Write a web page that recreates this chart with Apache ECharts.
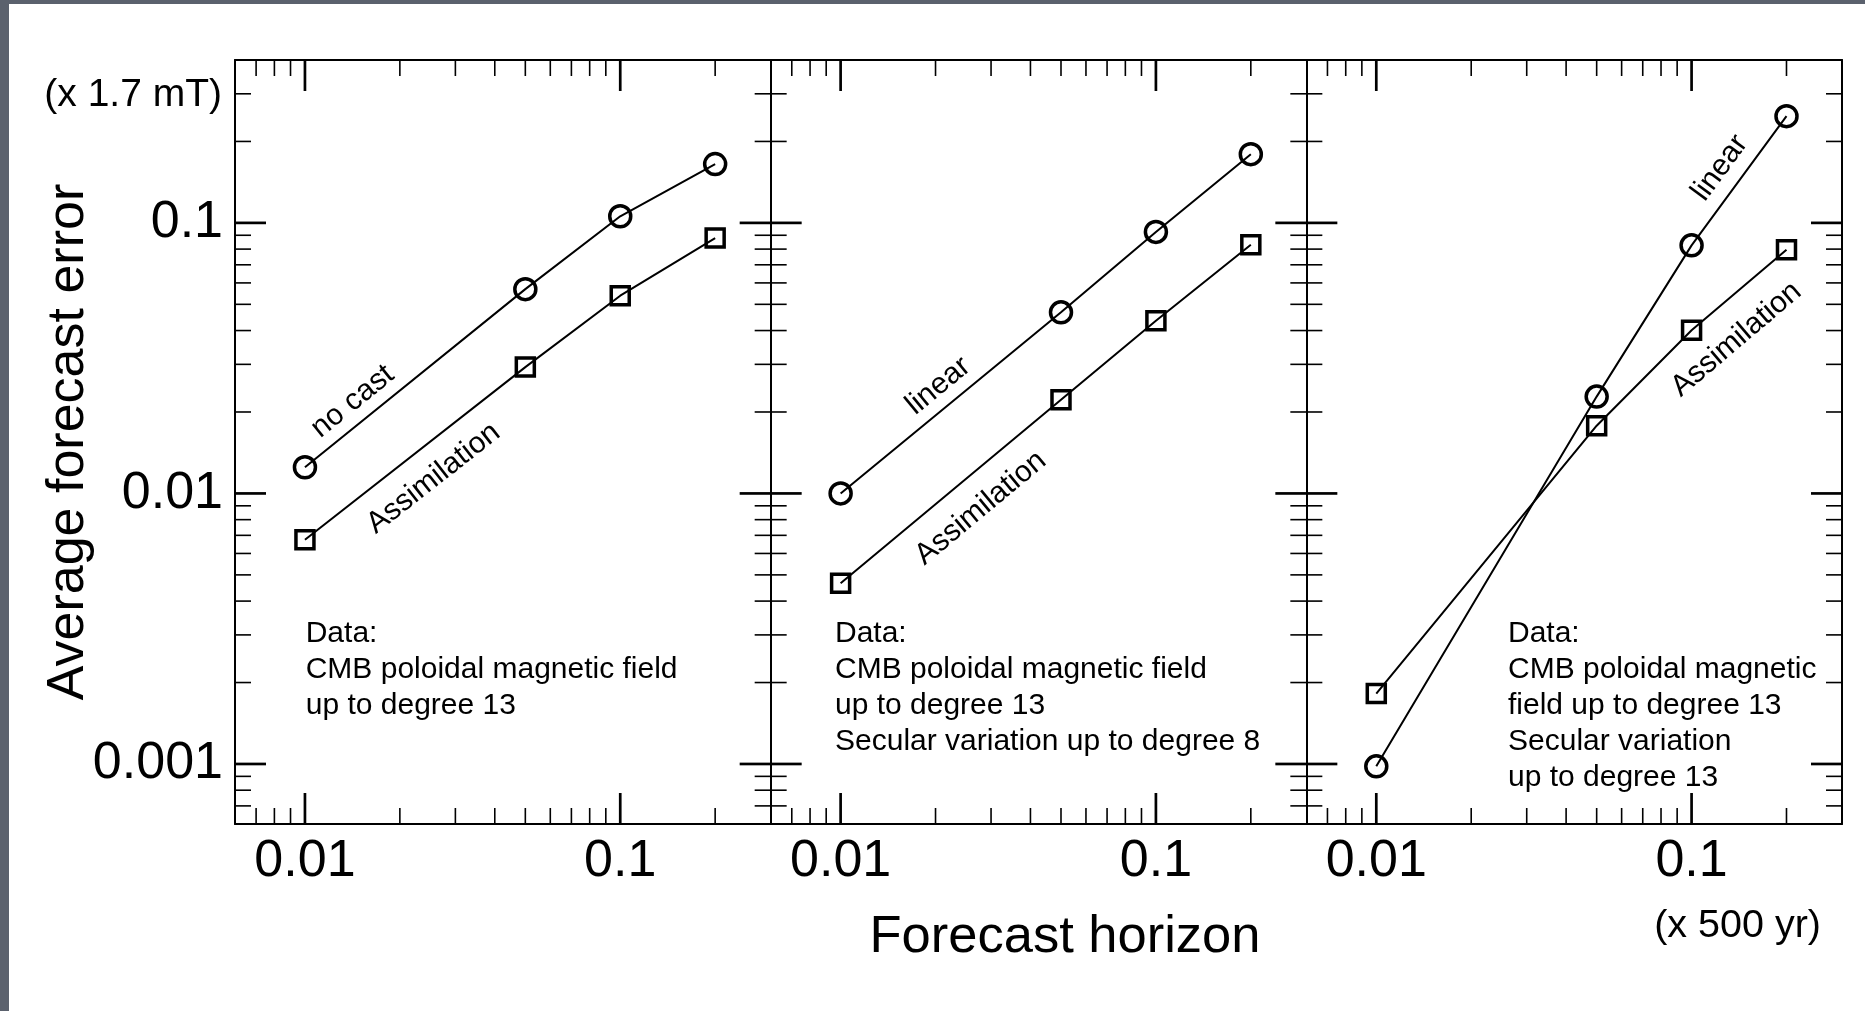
<!DOCTYPE html>
<html>
<head>
<meta charset="utf-8">
<script src="https://cdn.jsdelivr.net/npm/echarts@6/dist/echarts.min.js"></script>
<style>
html,body{margin:0;padding:0;background:#ffffff;}
#chart{width:1865px;height:1011px;}
</style>
</head>
<body>
<div id="chart"></div>
<script>
// ---------------- data ----------------
const horizons = [0.01, 0.05, 0.1, 0.2];            // forecast horizon (x 500 yr)

const panel1NoCast   = [0.0125, 0.0569, 0.1058, 0.165];
const panel1Assim    = [0.00674, 0.0293, 0.0538, 0.0879];
const panel2Linear   = [0.0100, 0.0467, 0.0926, 0.1795];
const panel2Assim    = [0.00466, 0.0222, 0.0435, 0.083];
const panel3Linear   = [0.00098, 0.0228, 0.0826, 0.248];
const panel3Assim    = [0.00182, 0.0178, 0.0401, 0.0796];

const curveNames = ['no cast', 'linear', 'linear'];
const assimName = 'Assimilation';

const xRange = [0.006, 0.3];
const yRange = [0.0006, 0.4];

const xMajorTicks = [0.01, 0.1];
const xTickLabels = ['0.01', '0.1'];
const xMinorTicks = [0.007, 0.008, 0.009, 0.02, 0.03, 0.04, 0.05, 0.06, 0.07, 0.08, 0.09, 0.2];

const yMajorTicks = [0.001, 0.01, 0.1];
const yTickLabels = ['0.001', '0.01', '0.1'];
const yMinorTicks = [0.0007, 0.0008, 0.0009,
  0.002, 0.003, 0.004, 0.005, 0.006, 0.007, 0.008, 0.009,
  0.02, 0.03, 0.04, 0.05, 0.06, 0.07, 0.08, 0.09, 0.2, 0.3];

const dataNotes = [
  ['Data:', 'CMB poloidal magnetic field', 'up to degree 13'],
  ['Data:', 'CMB poloidal magnetic field', 'up to degree 13', 'Secular variation up to degree 8'],
  ['Data:', 'CMB poloidal magnetic', 'field up to degree 13', 'Secular variation', 'up to degree 13']
];

const yAxisTitle = 'Average forecast error';
const xAxisTitle = 'Forecast horizon';
const yUnit = '(x 1.7 mT)';
const xUnit = '(x 500 yr)';

// ---------------- layout / style ----------------
const FONT = '"Liberation Sans", Arial, Helvetica, sans-serif';
const gridTop = 60, gridHeight = 764;
const gridLeft0 = 235, gridWidth = 535.67;
const noteLeft = [305.7, 835, 1508];
const noteTop = 616;

const panels = [
  {circle: panel1NoCast, square: panel1Assim},
  {circle: panel2Linear, square: panel2Assim},
  {circle: panel3Linear, square: panel3Assim}
];

// label placement along a segment: seg index, fraction t, perpendicular offset d (px, + = above)
const labelPlacement = [
  {panel: 0, kind: 'circle', seg: 0, t: 0.277, d: 21},
  {panel: 0, kind: 'square', seg: 0, t: 0.497, d: -31},
  {panel: 1, kind: 'circle', seg: 0, t: 0.504, d: 21},
  {panel: 1, kind: 'square', seg: 0, t: 0.543, d: -32},
  {panel: 2, kind: 'circle', seg: 2, t: 0.494, d: 23},
  {panel: 2, kind: 'square', seg: 2, t: 0.227, d: -36}
];

function labelFor(v, ticks, labels) {
  const lv = Math.log10(v);
  for (let i = 0; i < ticks.length; i++) {
    if (Math.abs(lv - Math.log10(ticks[i])) < 1e-6) return labels[i];
  }
  return '';
}

const grids = [], xAxes = [], yAxes = [], series = [];
for (let g = 0; g < 3; g++) {
  grids.push({left: gridLeft0 + g * gridWidth, top: gridTop, width: gridWidth, height: gridHeight, containLabel: false});
  const axisLine = {show: true, onZero: false, lineStyle: {color: '#000', width: 2}};
  // bottom
  xAxes.push({
    type: 'log', gridIndex: g, position: 'bottom', min: xRange[0], max: xRange[1],
    axisLine: axisLine, axisTick: {show: false}, splitLine: {show: false},
    axisLabel: {show: true, color: '#000', fontFamily: FONT, fontSize: 52, margin: 12,
      showMinLabel: false, showMaxLabel: false,
      formatter: v => labelFor(v, xMajorTicks, xTickLabels)}
  });
  // top
  xAxes.push({
    type: 'log', gridIndex: g, position: 'top', min: xRange[0], max: xRange[1],
    axisLine: axisLine, axisTick: {show: false}, splitLine: {show: false}, axisLabel: {show: false}
  });
  // left
  yAxes.push({
    type: 'log', gridIndex: g, position: 'left', min: yRange[0], max: yRange[1],
    axisLine: axisLine, axisTick: {show: false}, splitLine: {show: false},
    axisLabel: {show: g === 0, color: '#000', fontFamily: FONT, fontSize: 52, margin: 12,
      showMinLabel: false, showMaxLabel: false,
      formatter: v => labelFor(v, yMajorTicks, yTickLabels)}
  });
  // right
  yAxes.push({
    type: 'log', gridIndex: g, position: 'right', min: yRange[0], max: yRange[1],
    axisLine: axisLine, axisTick: {show: false}, splitLine: {show: false}, axisLabel: {show: false}
  });

  const p = panels[g];
  series.push({
    type: 'line', name: curveNames[g], xAxisIndex: 2 * g, yAxisIndex: 2 * g,
    data: horizons.map((h, i) => [h, p.circle[i]]),
    symbol: 'circle', symbolSize: 21,
    itemStyle: {color: 'rgba(0,0,0,0)', borderColor: '#000', borderWidth: 3.5},
    lineStyle: {color: '#000', width: 2}, z: 3, silent: true, emphasis: {disabled: true}
  });
  series.push({
    type: 'line', name: assimName, xAxisIndex: 2 * g, yAxisIndex: 2 * g,
    data: horizons.map((h, i) => [h, p.square[i]]),
    symbol: 'rect', symbolSize: 18,
    itemStyle: {color: 'rgba(0,0,0,0)', borderColor: '#000', borderWidth: 3.5},
    lineStyle: {color: '#000', width: 2}, z: 3, silent: true, emphasis: {disabled: true}
  });

  // tick marks on all four sides, through the axis scales
  const tickData = [];
  xMajorTicks.forEach(v => { tickData.push([v, 0.01, 0, 1]); tickData.push([v, 0.01, 1, 1]); });
  xMinorTicks.forEach(v => { tickData.push([v, 0.01, 0, 0]); tickData.push([v, 0.01, 1, 0]); });
  yMajorTicks.forEach(v => { tickData.push([0.01, v, 2, 1]); tickData.push([0.01, v, 3, 1]); });
  yMinorTicks.forEach(v => { tickData.push([0.01, v, 2, 0]); tickData.push([0.01, v, 3, 0]); });
  series.push({
    type: 'custom', xAxisIndex: 2 * g, yAxisIndex: 2 * g, silent: true, z: 4,
    dimensions: ['x', 'y', 'side', 'major'],
    encode: {x: 0, y: 1},
    data: tickData,
    renderItem: function (params, api) {
      const cs = params.coordSys;
      const side = api.value(2), major = api.value(3);
      const len = major ? 31 : 16;
      const pt = api.coord([api.value(0), api.value(1)]);
      let shape;
      if (side === 0) shape = {x1: pt[0], y1: cs.y + cs.height, x2: pt[0], y2: cs.y + cs.height - len};
      else if (side === 1) shape = {x1: pt[0], y1: cs.y, x2: pt[0], y2: cs.y + len};
      else if (side === 2) shape = {x1: cs.x, y1: pt[1], x2: cs.x + len, y2: pt[1]};
      else shape = {x1: cs.x + cs.width, y1: pt[1], x2: cs.x + cs.width - len, y2: pt[1]};
      return {type: 'line', shape: shape, style: {stroke: '#000', lineWidth: major ? 2.7 : 1.6}};
    }
  });
}

const chart = echarts.init(document.getElementById('chart'), null, {renderer: 'canvas'});
chart.setOption({
  animation: false,
  backgroundColor: '#ffffff',
  grid: grids, xAxis: xAxes, yAxis: yAxes, series: series
});

// ---------------- annotations ----------------
const graphics = [
  {type: 'rect', shape: {x: 0, y: 0, width: 1865, height: 4}, style: {fill: '#5b616d'}, z: 100},
  {type: 'rect', shape: {x: 0, y: 0, width: 9, height: 1011}, style: {fill: '#5b616d'}, z: 100},
  {type: 'text', x: 69, y: 442, rotation: Math.PI / 2,
    style: {text: yAxisTitle, font: '52px ' + FONT, fill: '#000', align: 'center', verticalAlign: 'middle'}},
  {type: 'text', x: 1065, y: 938,
    style: {text: xAxisTitle, font: '52.5px ' + FONT, fill: '#000', align: 'center', verticalAlign: 'middle'}},
  {type: 'text', x: 222, y: 95,
    style: {text: yUnit, font: '39px ' + FONT, fill: '#000', align: 'right', verticalAlign: 'middle'}},
  {type: 'text', x: 1821, y: 926,
    style: {text: xUnit, font: '39.5px ' + FONT, fill: '#000', align: 'right', verticalAlign: 'middle'}}
];

dataNotes.forEach((lines, g) => {
  graphics.push({type: 'text', x: noteLeft[g], y: noteTop,
    style: {text: lines.join('\n'), font: '30px ' + FONT, lineHeight: 36, fill: '#000', align: 'left', verticalAlign: 'top'}});
});

labelPlacement.forEach(lp => {
  const sIdx = lp.panel * 3 + (lp.kind === 'circle' ? 0 : 1);
  const vals = lp.kind === 'circle' ? panels[lp.panel].circle : panels[lp.panel].square;
  const a = chart.convertToPixel({seriesIndex: sIdx}, [horizons[lp.seg], vals[lp.seg]]);
  const b = chart.convertToPixel({seriesIndex: sIdx}, [horizons[lp.seg + 1], vals[lp.seg + 1]]);
  const dx = b[0] - a[0], dy = b[1] - a[1];
  const len = Math.sqrt(dx * dx + dy * dy);
  const ux = dx / len, uy = dy / len;
  const nx = uy, ny = -ux;   // normal pointing up-left
  const cx = a[0] + lp.t * dx + lp.d * nx;
  const cy = a[1] + lp.t * dy + lp.d * ny;
  const text = lp.kind === 'circle' ? curveNames[lp.panel] : assimName;
  graphics.push({type: 'text', x: cx, y: cy, rotation: Math.atan2(-dy, dx),
    style: {text: text, font: '30px ' + FONT, fill: '#000', align: 'center', verticalAlign: 'middle'}});
});

chart.setOption({graphic: graphics});
</script>
</body>
</html>
